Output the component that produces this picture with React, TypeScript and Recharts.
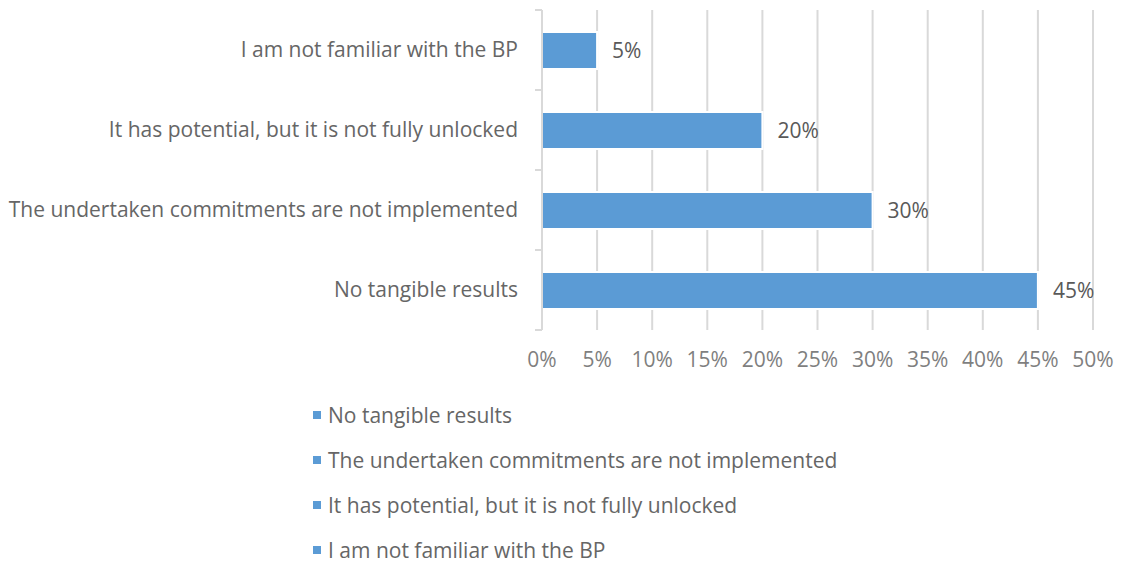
import React from "react";
import { BarChart, Bar, XAxis, YAxis, CartesianGrid, Legend, LabelList } from "recharts";

const categories = [
  "I am not familiar with the BP",
  "It has potential, but it is not fully unlocked",
  "The undertaken commitments are not implemented",
  "No tangible results",
];
const shares = [5, 20, 30, 45];
const xTicks = [0, 5, 10, 15, 20, 25, 30, 35, 40, 45, 50];

const data = categories.map((label, i) => ({ label, value: shares[i] }));

const FONT = "'Open Sans', sans-serif";
const FS = 21;
const BAR_COLOR = "#5b9bd5";
const GRID = "#d9d9d9";
const PLOT_TOP = 10;
const PLOT_BOTTOM = 330;
const BAND = (PLOT_BOTTOM - PLOT_TOP) / categories.length;

// category label plus the small tick marks at the band edges
const CategoryTick = (props: any) => {
  const { x, y, payload, index } = props;
  const axisX = x + 24;
  return (
    <g>
      <line x1={axisX - 7} x2={axisX} y1={y - BAND / 2} y2={y - BAND / 2} stroke={GRID} strokeWidth={2} />
      {index === categories.length - 1 && (
        <line x1={axisX - 7} x2={axisX} y1={y + BAND / 2} y2={y + BAND / 2} stroke={GRID} strokeWidth={2} />
      )}
      <text x={x} y={y} dy="0.35em" textAnchor="end" fill="#666666" fontSize={FS} fontFamily={FONT}>
        {payload.value}
      </text>
    </g>
  );
};

const LegendList = () => (
  <div style={{ fontFamily: FONT, fontSize: FS, color: "#666666" }}>
    {[...categories].reverse().map((c) => (
      <div key={c} style={{ height: 45, display: "flex", alignItems: "center" }}>
        <span style={{ width: 8, height: 8, background: BAR_COLOR, marginRight: 7, display: "inline-block" }} />
        <span>{c}</span>
      </div>
    ))}
  </div>
);

export default function App() {
  return (
    <div style={{ position: "absolute", left: 0, top: 0, background: "#fff" }}>
      <BarChart
        width={1121}
        height={562}
        data={data}
        layout="vertical"
        margin={{ top: PLOT_TOP, right: 28, left: 0, bottom: 192 }}
      >
        <CartesianGrid horizontal={false} stroke={GRID} strokeWidth={2} />
        <XAxis
          type="number"
          domain={[0, 50]}
          ticks={xTicks}
          tickFormatter={(v) => `${v}%`}
          axisLine={false}
          tickLine={false}
          tickMargin={16}
          height={40}
          tick={{ fill: "#7f7f7f", fontSize: FS, fontFamily: FONT }}
          interval={0}
        />
        <YAxis
          type="category"
          dataKey="label"
          width={542}
          axisLine={{ stroke: GRID, strokeWidth: 2 }}
          tickLine={false}
          tickSize={6}
          tickMargin={18}
          tick={<CategoryTick />}
          interval={0}
        />
        <Legend
          verticalAlign="middle"
          align="center"
          content={<LegendList />}
          wrapperStyle={{ top: 392, left: 313, width: 700 }}
        />
        <Bar dataKey="value" fill={BAR_COLOR} stroke="#ffffff" strokeWidth={2} barSize={37} isAnimationActive={false}>
          <LabelList
            dataKey="value"
            position="right"
            offset={15}
            formatter={(v: any) => `${v}%`}
            fill="#595959"
            fontSize={FS}
            fontFamily={FONT}
          />
        </Bar>
      </BarChart>
    </div>
  );
}
